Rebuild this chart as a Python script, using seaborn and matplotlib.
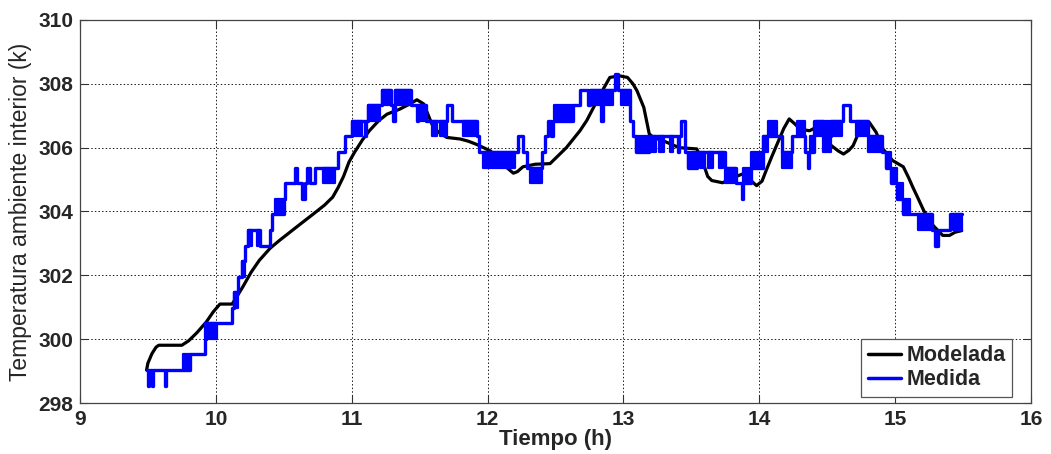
import numpy as np
import pandas as pd
import matplotlib
matplotlib.use("Agg")
import matplotlib.pyplot as plt
import seaborn as sns

# ---- Modelada (black, smooth) ----
modelada_t = [9.49, 9.50, 9.53, 9.56, 9.58, 9.75, 9.80, 9.86, 9.93, 9.98, 10.03, 10.12,
              10.15, 10.20, 10.26, 10.32, 10.40, 10.47, 10.53, 10.62, 10.72, 10.80, 10.86,
              10.90, 10.94, 10.98, 11.02, 11.08, 11.13, 11.20, 11.26, 11.35, 11.42, 11.48,
              11.53, 11.57, 11.60, 11.65, 11.70, 11.80, 11.86, 11.92, 11.97, 12.02, 12.08,
              12.14, 12.19, 12.22, 12.26, 12.35, 12.46, 12.52, 12.58, 12.68, 12.73, 12.78,
              12.84, 12.90, 12.97, 13.03, 13.07, 13.10, 13.15, 13.19, 13.22, 13.29, 13.41,
              13.54, 13.58, 13.62, 13.65, 13.73, 13.80, 13.88, 13.93, 13.98, 14.02, 14.05,
              14.09, 14.13, 14.18, 14.22, 14.26, 14.30, 14.37, 14.42, 14.47, 14.52, 14.58,
              14.62, 14.66, 14.69, 14.73, 14.76, 14.81, 14.86, 14.91, 14.98, 15.06, 15.10,
              15.13, 15.17, 15.21, 15.28, 15.35, 15.40, 15.44, 15.49]
modelada_T = [299.03, 299.25, 299.55, 299.75, 299.81, 299.81, 299.95, 300.20, 300.54, 300.85,
              301.10, 301.10, 301.30, 301.65, 302.10, 302.47, 302.85, 303.10, 303.30, 303.60,
              303.93, 304.20, 304.45, 304.75, 305.10, 305.55, 305.85, 306.25, 306.53, 306.85,
              307.05, 307.20, 307.35, 307.50, 307.37, 306.95, 306.64, 306.45, 306.32, 306.27,
              306.20, 306.10, 306.00, 305.90, 305.65, 305.38, 305.20, 305.25, 305.40, 305.48,
              305.50, 305.75, 306.00, 306.53, 306.85, 307.26, 307.75, 308.20, 308.25, 308.20,
              308.00, 307.78, 307.26, 306.43, 306.32, 306.22, 306.00, 305.96, 305.60, 305.10,
              304.97, 304.90, 305.05, 305.18, 305.00, 304.81, 304.95, 305.28, 305.70, 306.10,
              306.60, 306.90, 306.75, 306.58, 306.53, 306.64, 306.40, 306.10, 305.90, 305.80,
              305.92, 306.06, 306.45, 306.74, 306.79, 306.48, 305.96, 305.60, 305.40, 305.05,
              304.76, 304.40, 304.03, 303.56, 303.25, 303.25, 303.35, 303.40]

# ---- Medida (blue, quantised steps) ----
medida_t = [9.49, 9.503, 9.511, 9.532, 9.540, 9.625, 9.633, 9.81, 9.92, 9.93, 10.12, 10.13,
            10.165, 10.19, 10.215, 10.24, 10.325, 10.40, 10.41, 10.50, 10.51, 10.583, 10.595,
            10.631, 10.656, 10.668, 10.693, 10.73, 10.90, 10.95, 11.00, 11.097, 11.105, 11.12,
            11.22, 11.29, 11.305, 11.315, 11.32, 11.44, 11.478, 11.486, 11.55, 11.698, 11.735,
            11.92, 11.935, 12.226, 12.262, 12.29, 12.397, 12.42, 12.445, 12.47, 12.478, 12.63,
            12.68, 12.74, 12.752, 12.838, 12.85, 12.936, 12.96, 13.047, 13.071, 13.096, 13.19,
            13.40, 13.407, 13.427, 13.452, 13.476, 13.54, 13.75, 13.83, 13.87, 13.877, 13.94,
            14.03, 14.165, 14.237, 14.335, 14.36, 14.367, 14.40, 14.47, 14.53, 14.617, 14.666,
            14.80, 14.90, 14.935, 14.97, 15.01, 15.06, 15.27, 15.291, 15.316, 15.40, 15.49]
medida_T = [299.03, 298.54, 299.03, 298.54, 299.03, 298.54, 299.03, 299.52, 300.01, 300.50,
            300.98, 301.47, 301.96, 302.45, 302.93, 303.42, 302.93, 303.42, 303.91, 304.40,
            304.89, 305.37, 304.89, 304.40, 304.89, 305.37, 304.89, 305.37, 305.86, 306.35,
            306.84, 306.35, 306.84, 307.33, 307.81, 307.33, 306.84, 307.33, 307.81, 307.33,
            306.84, 307.33, 306.84, 307.33, 306.84, 306.35, 305.86, 306.35, 305.86, 305.37,
            305.86, 306.35, 306.84, 306.35, 306.84, 307.33, 307.81, 307.33, 307.81, 306.84,
            307.81, 308.30, 307.81, 306.84, 306.35, 305.86, 306.35, 305.86, 306.35, 306.84,
            305.86, 305.37, 305.86, 305.37, 304.89, 304.40, 304.89, 305.37, 306.35, 305.86,
            306.35, 305.86, 305.37, 305.86, 306.84, 306.35, 306.84, 307.33, 306.84, 306.35,
            305.86, 305.37, 304.89, 304.40, 303.91, 303.42, 302.93, 303.42, 303.91, 303.91]

# intervals where the measured signal flickers between two adjacent levels
osc_t0 = [9.76, 9.92, 10.13, 10.19, 10.24, 10.30, 10.435, 10.79, 11.00, 11.12, 11.22, 11.32,
          11.49, 11.59, 11.649, 11.82, 11.968, 12.31, 12.49, 12.752, 12.85, 12.985, 13.096,
          13.19, 13.26, 13.34, 13.476, 13.56, 13.625, 13.70, 13.75, 13.88, 13.94, 14.03,
          14.065, 14.165, 14.274, 14.37, 14.42, 14.47, 14.53, 14.715, 14.80, 14.935, 14.97,
          15.01, 15.06, 15.17, 15.426]
osc_t1 = [9.81, 10.01, 10.165, 10.215, 10.265, 10.325, 10.50, 10.88, 11.073, 11.21, 11.29,
          11.44, 11.55, 11.625, 11.698, 11.92, 12.20, 12.40, 12.63, 12.838, 12.92, 13.047,
          13.19, 13.24, 13.30, 13.365, 13.54, 13.60, 13.66, 13.735, 13.83, 13.94, 14.03,
          14.065, 14.13, 14.24, 14.335, 14.40, 14.47, 14.53, 14.605, 14.80, 14.90, 14.97,
          15.01, 15.06, 15.11, 15.27, 15.49]
osc_lo = [299.03, 300.01, 300.98, 301.96, 302.93, 302.93, 303.91, 304.89, 306.35, 306.84,
          307.33, 307.33, 306.84, 306.35, 306.35, 306.35, 305.37, 304.89, 306.84, 307.33,
          307.33, 307.33, 305.86, 305.86, 305.86, 305.86, 305.37, 305.37, 305.37, 305.37,
          304.89, 304.89, 305.37, 305.86, 306.35, 305.37, 306.35, 305.86, 306.35, 305.86,
          306.35, 306.35, 305.86, 305.37, 304.89, 304.40, 303.91, 303.42, 303.42]
osc_hi = [299.52, 300.50, 301.47, 302.45, 303.42, 303.42, 304.40, 305.37, 306.84, 307.33,
          307.81, 307.81, 307.33, 306.84, 306.84, 306.84, 305.86, 305.37, 307.33, 307.81,
          307.81, 307.81, 306.35, 306.35, 306.35, 306.35, 305.86, 305.86, 305.86, 305.86,
          305.37, 305.37, 305.86, 306.35, 306.84, 305.86, 306.84, 306.35, 306.84, 306.84,
          306.84, 306.84, 306.35, 305.86, 305.37, 304.89, 304.40, 303.91, 303.91]

x_ticks = [9, 10, 11, 12, 13, 14, 15, 16]
y_ticks = [298, 300, 302, 304, 306, 308, 310]

sns.set_theme(style="white")
plt.rcParams["font.family"] = ["Liberation Sans", "DejaVu Sans"]

fig = plt.figure(figsize=(10.51, 4.54), dpi=100)
ax = fig.add_axes([0.0761, 0.1123, 0.9049, 0.8437])

df_mod = pd.DataFrame({"t": modelada_t, "T": modelada_T})
df_med = pd.DataFrame({"t": medida_t, "T": medida_T})

sns.lineplot(data=df_mod, x="t", y="T", ax=ax, color="black", lw=2.3,
             estimator=None, sort=False, label="Modelada", zorder=3)
sns.lineplot(data=df_med, x="t", y="T", ax=ax, color="#0000ff", lw=2.4,
             estimator=None, sort=False, drawstyle="steps-post", label="Medida", zorder=4)
for a, b, lo, hi in zip(osc_t0, osc_t1, osc_lo, osc_hi):
    ax.fill_between([a, b], [lo, lo], [hi, hi], color="#0000ff", lw=1.6,
                    edgecolor="#0000ff", zorder=4)

ax.set_xlim(9, 16)
ax.set_ylim(298, 310)
ax.set_xticks(x_ticks)
ax.set_yticks(y_ticks)
ax.set_xticklabels([str(v) for v in x_ticks])
ax.set_yticklabels([str(v) for v in y_ticks])
ax.grid(True, color="black", linestyle=(0, (1.5, 2.2)), linewidth=0.7, alpha=0.9)
ax.tick_params(axis="both", direction="in", length=6, width=0.8, color="#333333",
               labelsize=15, top=True, right=True, bottom=True, left=True, pad=5)
for lab in ax.get_xticklabels() + ax.get_yticklabels():
    lab.set_fontweight("bold")
for s in ax.spines.values():
    s.set_color("#444444")
    s.set_linewidth(0.9)

ax.set_xlabel("Tiempo (h)", fontsize=16, fontweight="bold", labelpad=0)
ax.set_ylabel("Temperatura ambiente interior (k)", fontsize=16.5, labelpad=4)

leg = ax.legend(loc="lower right", bbox_to_anchor=(0.980, 0.016), borderaxespad=0,
                fancybox=False, framealpha=1, edgecolor="#555555",
                prop={"size": 15.5, "weight": "bold"}, handlelength=1.55,
                handletextpad=0.25, borderpad=0.3, labelspacing=0.15)
leg.get_frame().set_linewidth(0.9)
for ln in leg.get_lines():
    ln.set_linewidth(2.5)

fig.savefig("out.png", dpi=100)
